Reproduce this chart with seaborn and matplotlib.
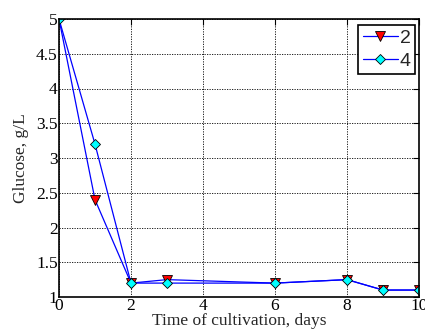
import matplotlib
matplotlib.use("Agg")
import matplotlib.pyplot as plt
import seaborn as sns
import pandas as pd

days = [0, 1, 2, 3, 6, 8, 9, 10]
series2 = [5.0, 2.4, 1.2, 1.25, 1.2, 1.25, 1.1, 1.1]
series4 = [5.0, 3.2, 1.2, 1.2, 1.2, 1.25, 1.1, 1.1]
labels = ["2", "4"]
x_ticks = [0, 2, 4, 6, 8, 10]
y_ticks = [1, 1.5, 2, 2.5, 3, 3.5, 4, 4.5, 5]

sns.set_style("white")
plt.rcParams['font.family'] = ['Liberation Serif', 'DejaVu Serif']

fig = plt.figure(figsize=(4.25, 3.34), dpi=100)
ax = fig.add_axes([59/425, 1 - 297/334, (419-59)/425, (297-19)/334])

df2 = pd.DataFrame({"x": days, "y": series2})
df4 = pd.DataFrame({"x": days, "y": series4})
sns.lineplot(data=df2, x="x", y="y", ax=ax, color="blue", lw=0.9, marker="v",
             markersize=7.5, markerfacecolor="red", markeredgecolor="black",
             markeredgewidth=0.6, label=labels[0])
sns.lineplot(data=df4, x="x", y="y", ax=ax, color="blue", lw=0.9, marker="D",
             markersize=5.5, markerfacecolor="cyan", markeredgecolor="black",
             markeredgewidth=0.6, label=labels[1])

ax.set_xlim(0, 10)
ax.set_ylim(1, 5)
ax.set_xticks(x_ticks)
ax.set_yticks(y_ticks)
ax.set_xticklabels([str(t) for t in x_ticks])
ax.set_yticklabels(["1", "1.5", "2", "2.5", "3", "3.5", "4", "4.5", "5"])
ax.tick_params(direction="in", length=4, labelsize=12.5, top=True, right=True,
               width=0.8, pad=1, color="black", labelcolor="black")
ax.grid(True, linestyle=(0, (1.5, 1.5)), color="black", linewidth=0.6)
for s in ax.spines.values():
    s.set_visible(True)
    s.set_color("black")
    s.set_linewidth(1.2)
ax.set_xlabel("Time of cultivation, days", fontsize=12.5, labelpad=-1)
ax.set_ylabel("Glucose, g/L", fontsize=12.5, labelpad=5)

leg = ax.legend(loc="upper right", frameon=True, fancybox=False,
                prop={"family": "Liberation Sans", "size": 14},
                edgecolor="black", framealpha=1, handlelength=1.8,
                bbox_to_anchor=(0.99, 0.98), borderaxespad=0.0,
                borderpad=0.25, labelspacing=0.25, handletextpad=0.1)
leg.get_frame().set_linewidth(1.2)

fig.savefig("out.png", dpi=100)
